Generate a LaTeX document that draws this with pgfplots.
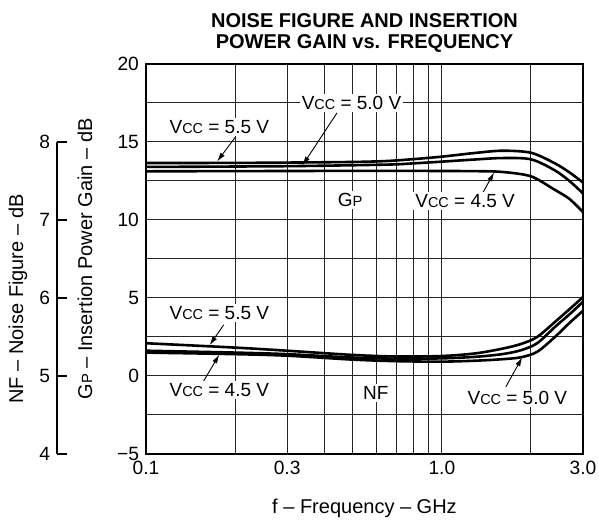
\documentclass[border=0pt]{standalone}
\usepackage{fontspec}
\setmainfont{Liberation Sans}
\usepackage{pgfplots}
\pgfplotsset{compat=1.18}
\usetikzlibrary{arrows.meta}
\newcommand{\Vcc}{V{\fontsize{7.2}{8}\selectfont CC}}
\newcommand{\GP}{G{\fontsize{7.4}{8}\selectfont P}}
\begin{document}
\begin{tikzpicture}[font=\fontsize{9.5}{11}\selectfont]
\useasboundingbox (-73pt,-34pt) rectangle (226.5pt,227pt);
\pgfplotsset{every axis/.append style={/pgf/number format/assume math mode=true}}
% main G_P axis
\begin{axis}[
  at={(0pt,0pt)}, anchor=south west,
  scale only axis, width=218.5pt, height=195pt,
  xmode=log, xmin=0.1, xmax=3, ymin=-5, ymax=20,
  xtick={0.1,0.3,1,3}, xticklabels={0.1,0.3,1.0,3.0},
  minor xtick={0.2,0.4,0.5,0.6,0.7,0.8,0.9,2},
  ytick={-5,0,5,10,15,20}, yticklabels={−5,0,5,10,15,20},
  minor ytick={-2.5,2.5,7.5,12.5,17.5},
  grid=both,
  major grid style={black!85, line width=0.5pt},
  minor grid style={black!85, line width=0.5pt},
  major tick length=0pt, minor tick length=0pt,
  axis line style={line width=0.8pt},
  tick label style={font=\fontsize{9.6}{11}\selectfont},
  clip=false,
]
\addplot[black, line width=1.3pt, smooth] coordinates {
 (0.1,13.65)(0.2,13.66)(0.3,13.68)(0.5,13.72)(0.65,13.78)(0.8,13.9)(1.0,14.06)(1.3,14.3)(1.6,14.44)(2.0,14.31)(2.4,13.65)(2.7,13.05)(3.0,12.4)};
\addplot[black, line width=1.3pt, smooth] coordinates {
 (0.1,13.4)(0.3,13.45)(0.65,13.55)(0.8,13.63)(1.0,13.74)(1.3,13.88)(1.6,13.97)(2.0,13.89)(2.4,13.2)(2.7,12.5)(3.0,11.7)};
\addplot[black, line width=1.3pt, smooth] coordinates {
 (0.1,13.12)(0.3,13.14)(0.65,13.15)(1.0,13.14)(1.3,13.13)(1.6,13.08)(2.0,12.8)(2.4,11.95)(2.7,11.35)(3.0,10.5)};
% annotations
\begin{scope}[-{Latex[length=4.5pt,width=2.6pt]}, line width=0.45pt]
\draw (axis cs:0.201,15.34) -- (axis cs:0.174,13.75);
\draw (axis cs:0.442,16.86) -- (axis cs:0.338,13.5);
\draw (axis cs:1.372,11.71) -- (axis cs:1.503,13.05);
\draw (axis cs:0.183,3.27) -- (axis cs:0.164,1.97);
\draw (axis cs:0.155,-0.47) -- (axis cs:0.177,1.38);
\draw (axis cs:1.646,-0.69) -- (axis cs:1.87,1.2);
\end{scope}
\begin{scope}[every node/.style={fill=white, inner sep=1pt}]
\node at (axis cs:0.177,15.96) {\Vcc\ = 5.5 V};
\node at (axis cs:0.495,17.5) {\Vcc\ = 5.0 V};
\node at (axis cs:0.49,11.28) {\GP};
\node at (axis cs:1.199,11.22) {\Vcc\ = 4.5 V};
\node at (axis cs:0.177,4.04) {\Vcc\ = 5.5 V};
\node at (axis cs:0.177,-0.9) {\Vcc\ = 4.5 V};
\node at (axis cs:0.598,-1.09) {NF};
\node at (axis cs:1.8,-1.43) {\Vcc\ = 5.0 V};
\end{scope}
\end{axis}
% NF curves overlay
\begin{axis}[
  at={(0pt,0pt)}, anchor=south west,
  scale only axis, width=218.5pt, height=195pt,
  xmode=log, xmin=0.1, xmax=3, ymin=4, ymax=9,
  hide axis,
]
\addplot[black, line width=1.3pt, smooth] coordinates {
 (0.1,5.42)(0.2,5.364)(0.3,5.324)(0.5,5.27)(0.7,5.25)(1.0,5.256)(1.3,5.29)(1.6,5.35)(1.85,5.41)(2.1,5.5)(2.42,5.698)(2.7,5.856)(3.0,6.012)};
\addplot[black, line width=1.3pt, smooth] coordinates {
 (0.1,5.324)(0.2,5.3)(0.3,5.28)(0.5,5.236)(0.7,5.222)(1.0,5.226)(1.3,5.246)(1.6,5.28)(1.85,5.33)(2.1,5.42)(2.42,5.634)(2.7,5.79)(3.0,5.952)};
\addplot[black, line width=1.3pt, smooth] coordinates {
 (0.1,5.30)(0.2,5.28)(0.3,5.26)(0.5,5.21)(0.7,5.19)(1.0,5.184)(1.3,5.196)(1.6,5.215)(1.85,5.24)(2.1,5.31)(2.42,5.506)(2.7,5.68)(3.0,5.836)};
\end{axis}
% NF scale axis
\begin{axis}[
  at={(-44.5pt,0pt)}, anchor=south west,
  scale only axis, width=20pt, height=156pt,
  xmin=0, xmax=1, ymin=4, ymax=8,
  hide x axis, axis y line=left,
  y axis line style={-, line width=0.8pt},
  ytick={4,5,6,7,8},
  tick align=inside, major tick length=5pt,
  tick style={black, line width=0.8pt},
  tick label style={font=\fontsize{9.6}{11}\selectfont},
]
\end{axis}
\node[rotate=90, font=\fontsize{10}{12}\selectfont] at (-30.5pt,97.5pt) {\GP\ – Insertion Power Gain – dB};
\node[rotate=90, font=\fontsize{10}{12}\selectfont] at (-64pt,77.5pt) {NF – Noise Figure – dB};
\node[font=\fontsize{10}{12}\selectfont] at (109.25pt,-27pt) {f – Frequency – GHz};
\node[align=center, font=\bfseries\fontsize{10}{10.5}\selectfont] at (109.25pt,210.25pt) {NOISE FIGURE AND INSERTION\\POWER GAIN vs. FREQUENCY};
\end{tikzpicture}
\end{document}
